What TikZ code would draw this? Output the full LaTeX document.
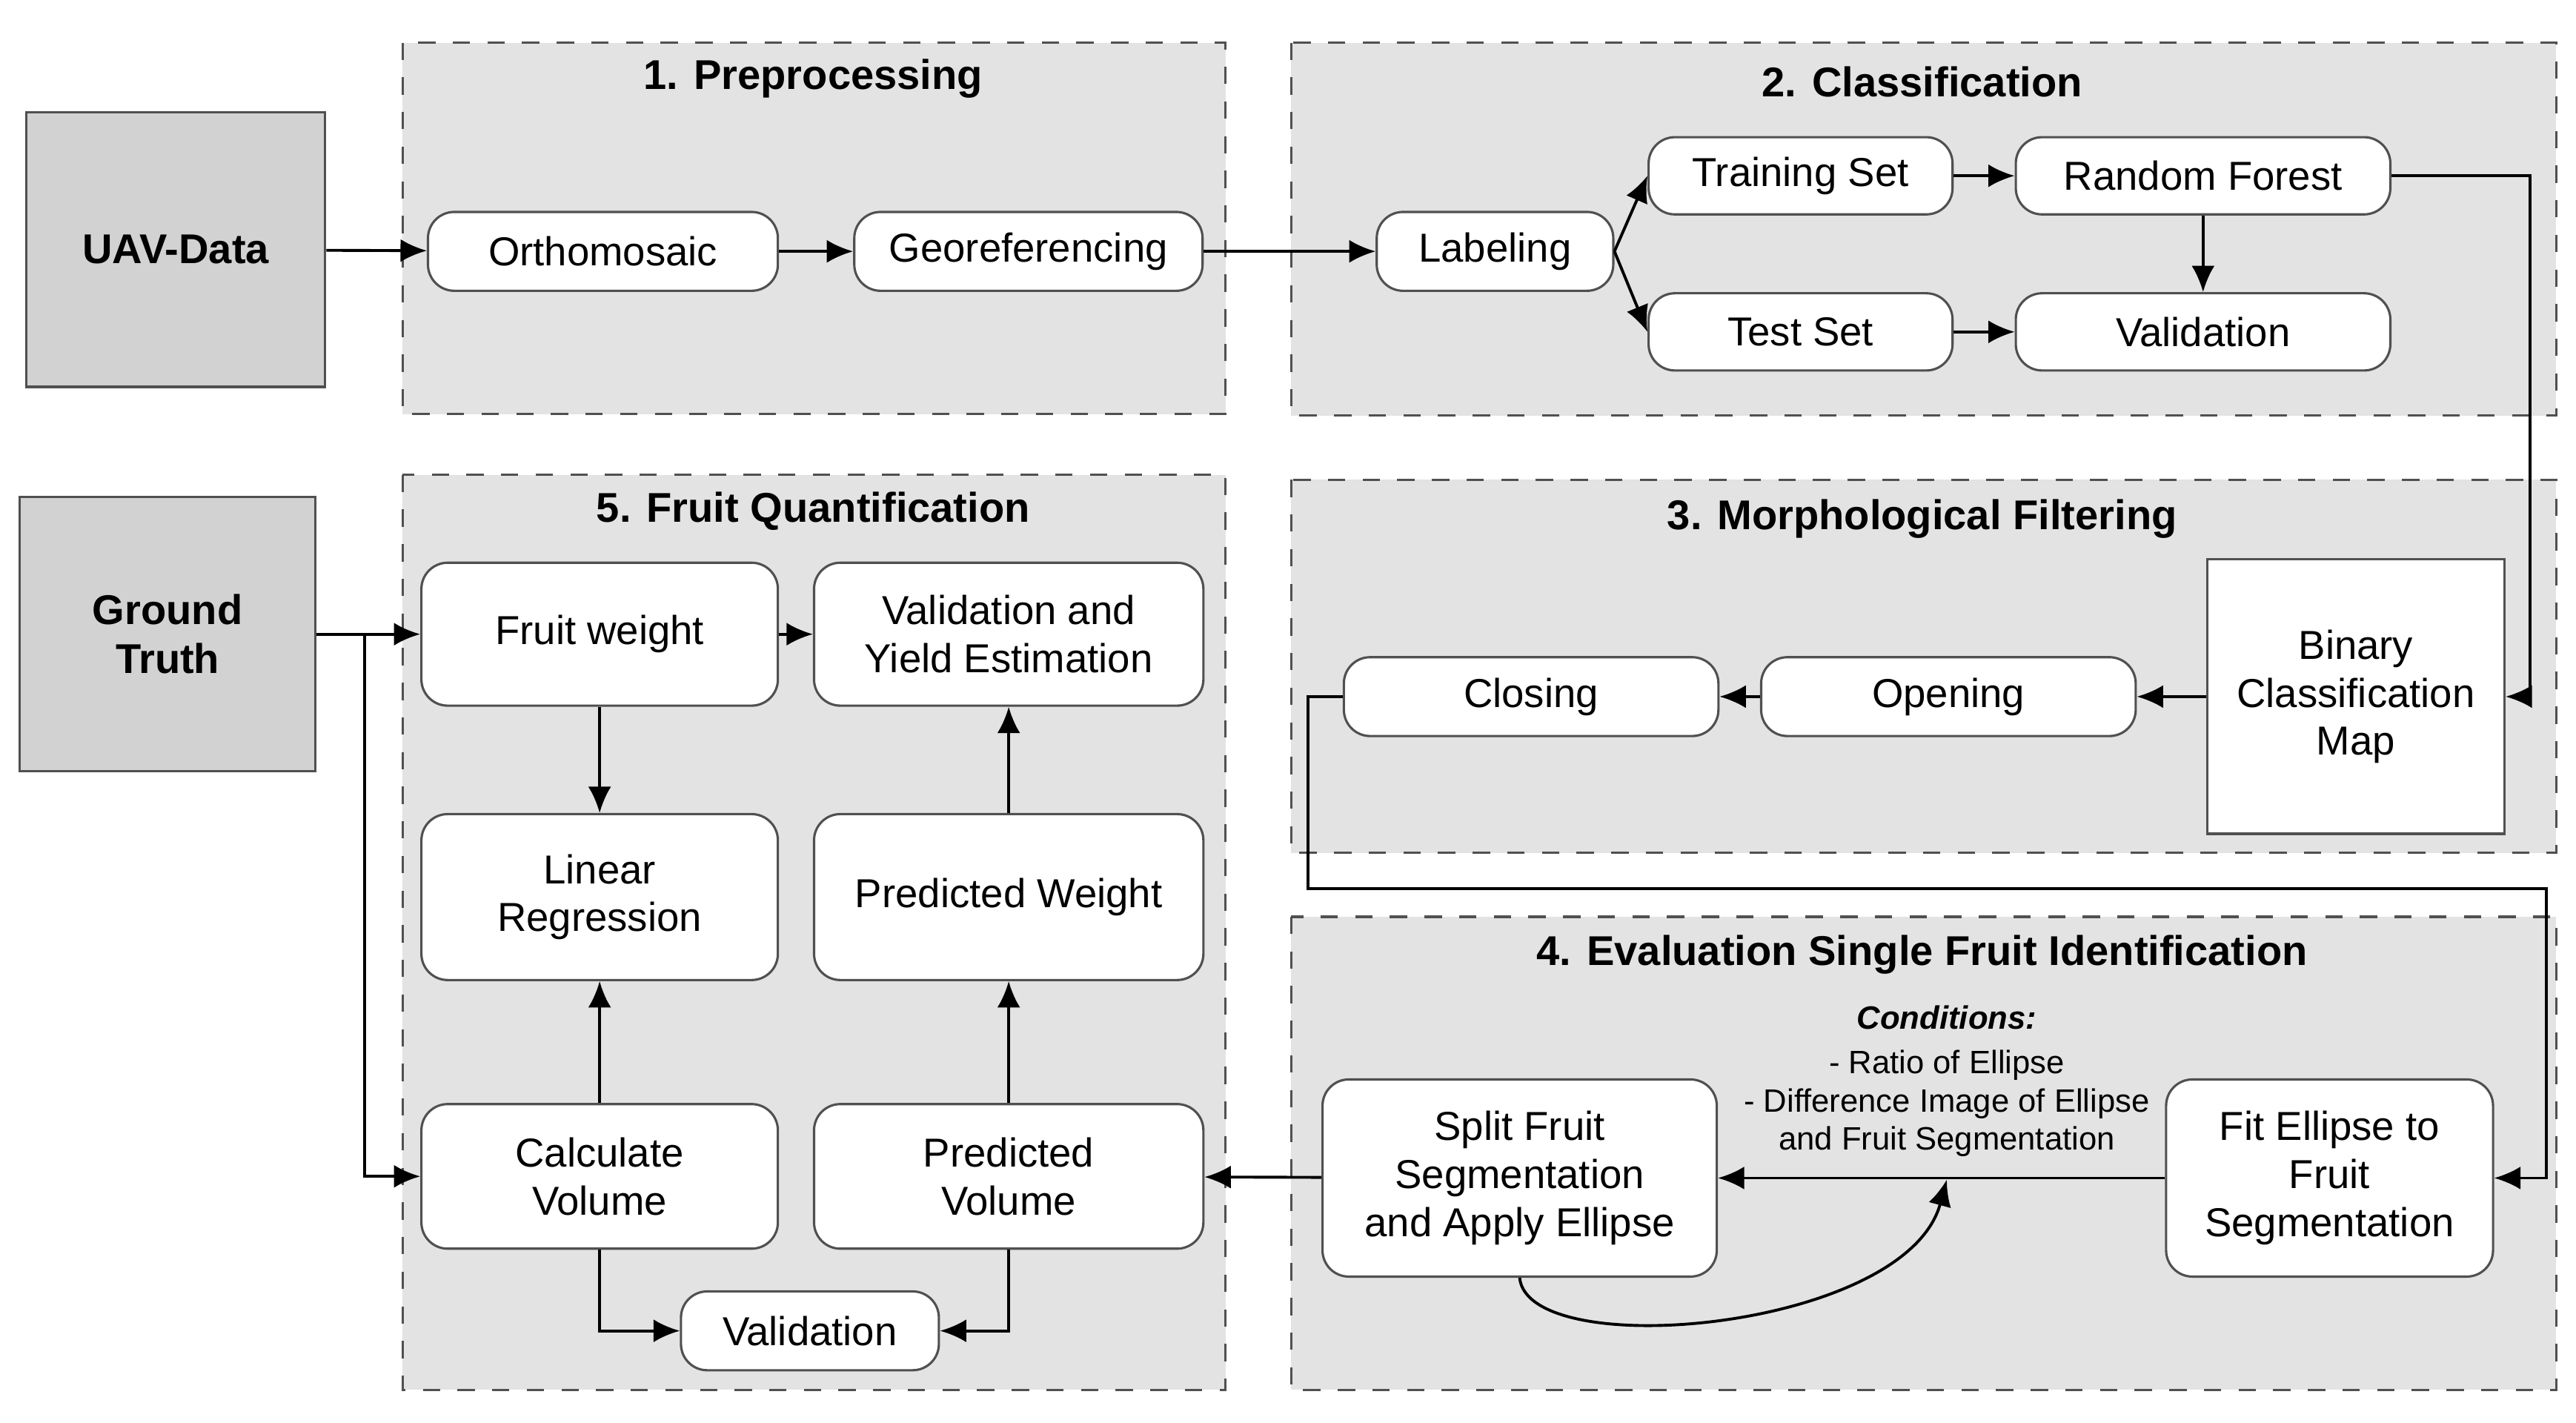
\documentclass[tikz,border=0pt]{standalone}
\usepackage{fontspec}
\setmainfont{Liberation Sans}
\usetikzlibrary{positioning}
\usetikzlibrary{arrows.meta}
\definecolor{panelgray}{HTML}{E3E3E3}
\definecolor{datagray}{HTML}{D2D2D2}
\definecolor{linegray}{HTML}{505050}

\tikzset{
stage/.style={draw=linegray, dashed, fill=panelgray, inner sep=0pt},
stagetitle/.style={font=\fontsize{7.2}{8}\selectfont\bfseries},
source/.style={draw=linegray, fill=datagray, inner sep=0pt, align=center, font=\fontsize{7.2}{8.5}\selectfont\bfseries},
task/.style={draw=linegray, fill=white, rounded corners=1.6mm, inner sep=0pt, align=center, font=\fontsize{7}{8.3}\selectfont},
flow/.style={-{Latex[length=1.6mm,width=1.4mm]}, black, line width=0.5pt}
}

\begin{document}
\begin{tikzpicture}[x=0.1mm, y=-0.1mm]
\useasboundingbox[fill=white] (0,0) rectangle (1568,866);
% stages
\draw[stage] (245,26) rectangle (746,252);
\draw[stage] (786,26) rectangle (1556,253);
\draw[stage] (786,292) rectangle (1556,519);
\draw[stage] (786,558) rectangle (1556,846);
\draw[stage] (245,289) rectangle (746,846);
\node[stagetitle] (t1) at (495,48) {1. Preprocessing};
\node[stagetitle] (t2) at (1170,50) {2. Classification};
\node[stagetitle] (t3) at (1170,316) {3. Morphological Filtering};
\node[stagetitle] (t4) at (1170,581) {4. Evaluation Single Fruit Identification};
\node[stagetitle] (t5) at (495,311) {5. Fruit Quantification};

% inputs
\node[source, minimum width=18.2mm, minimum height=16.7mm] (uav) at (107,152) {UAV-Data};
\node[source, minimum width=18mm, minimum height=16.7mm] (truth) at (102,386) {Ground\\Truth};

% 1 + 2
\node[task, minimum width=21.3mm, minimum height=4.8mm] (ortho) at (367,153) {Orthomosaic};
\node[task, minimum width=21.2mm, minimum height=4.8mm] (geo) at (626,153) {Georeferencing};
\node[task, minimum width=14.4mm, minimum height=4.8mm] (label) at (910,153) {Labeling};
\node[task, minimum width=18.5mm, minimum height=4.7mm] (train) at (1096,107) {Training Set};
\node[task, minimum width=18.5mm, minimum height=4.7mm] (test) at (1096,202) {Test Set};
\node[task, minimum width=22.8mm, minimum height=4.7mm] (forest) at (1341,107) {Random Forest};
\node[task, minimum width=22.8mm, minimum height=4.7mm] (valid) at (1341,202) {Validation};

% 3
\node[task, rounded corners=0pt, minimum width=18.1mm, minimum height=16.7mm] (binary) at (1434,424) {Binary\\Classification\\Map};
\node[task, minimum width=22.8mm, minimum height=4.8mm] (open) at (1186,424) {Opening};
\node[task, minimum width=22.8mm, minimum height=4.8mm] (close) at (932,424) {Closing};

% 4
\node[task, minimum width=19.9mm, minimum height=12mm] (fit) at (1418,717) {Fit Ellipse to\\Fruit\\Segmentation};
\node[task, minimum width=24mm, minimum height=12mm] (split) at (925,717) {Split Fruit\\Segmentation\\and Apply Ellipse};
\node[font=\fontsize{5.6}{6.6}\selectfont, align=center] (cond) at (1185,658)
  {\textbf{\textit{Conditions:}}\\[0.4mm]- Ratio of Ellipse\\- Difference Image of Ellipse\\and Fruit Segmentation};
\coordinate (split in) at (1185,718);

% 5
\node[task, minimum width=21.7mm, minimum height=8.7mm] (weight) at (365,386) {Fruit weight};
\node[task, minimum width=23.7mm, minimum height=8.7mm] (yield) at (614,386) {Validation and\\Yield Estimation};
\node[task, minimum width=21.7mm, minimum height=10.1mm] (linreg) at (365,546) {Linear\\Regression};
\node[task, minimum width=23.7mm, minimum height=10.1mm] (predw) at (614,546) {Predicted Weight};
\node[task, minimum width=21.7mm, minimum height=8.8mm] (calc) at (365,716) {Calculate\\Volume};
\node[task, minimum width=23.7mm, minimum height=8.8mm] (predv) at (614,716) {Predicted\\Volume};
\node[task, minimum width=15.7mm, minimum height=4.8mm] (valid2) at (493,810) {Validation};

% connectors
\draw[flow] (uav) -- (ortho);
\draw[flow] (ortho) -- (geo);
\draw[flow] (geo) -- (label);
\draw[flow] (label.east) -- (train.west);
\draw[flow] (label.east) -- (test.west);
\draw[flow] (train) -- (forest);
\draw[flow] (test) -- (valid);
\draw[flow] (forest) -- (valid);
\draw[flow] (forest.east) -- (1540,107) |- (binary.east);
\draw[flow] (binary) -- (open);
\draw[flow] (open) -- (close);
\draw[flow] (close.west) -- (796,424) |- (1550,541) |- (fit.east);
\draw[flow] (fit) -- (split);
\draw[flow] (split.south) .. controls (930,830) and (1160,810) .. (split in);
\draw[flow] (split) -- (predv);
\draw[flow] (truth.east |- weight) -- (weight);
\draw[flow] (222,386) |- (calc.west);
\draw[flow] (weight) -- (yield);
\draw[flow] (weight) -- (linreg);
\draw[flow] (calc) -- (linreg);
\draw[flow] (predv) -- (predw);
\draw[flow] (predw) -- (yield);
\draw[flow] (calc.south) |- (valid2.west);
\draw[flow] (predv.south) |- (valid2.east);
\end{tikzpicture}
\end{document}
